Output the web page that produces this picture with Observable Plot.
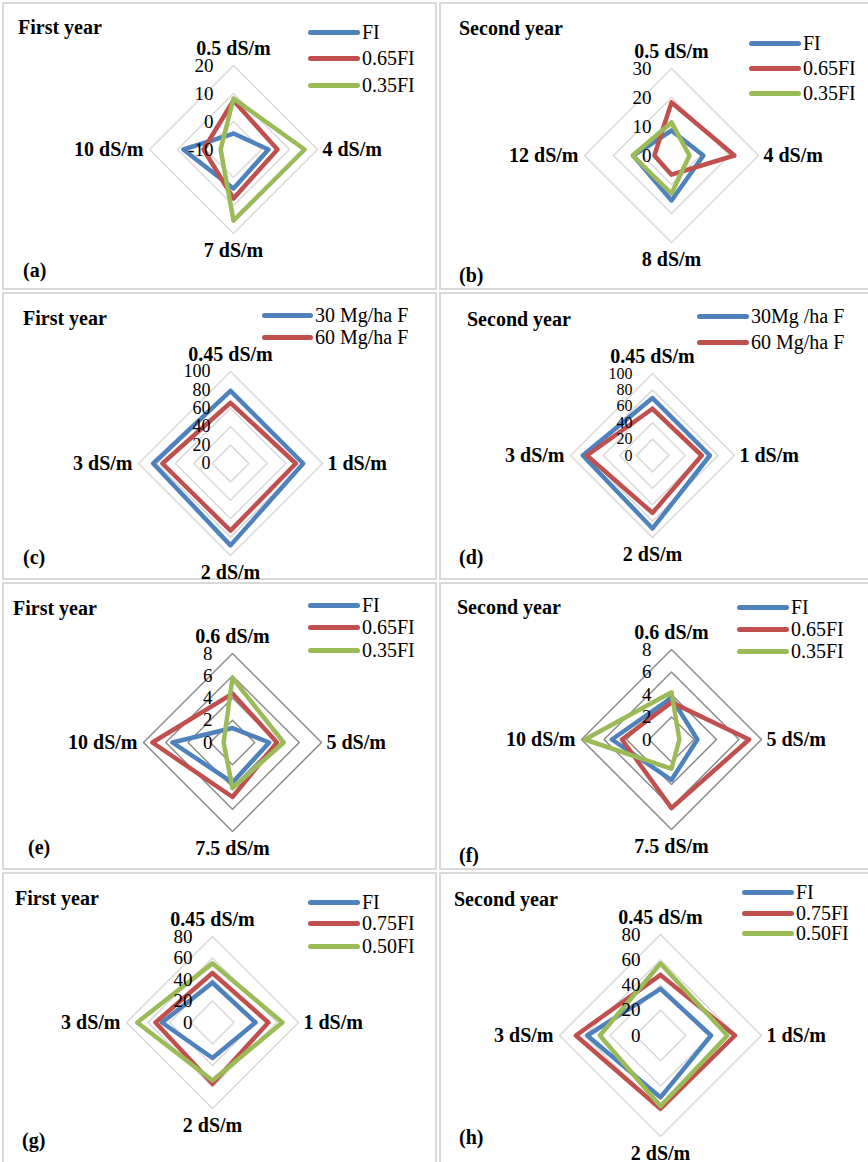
<!DOCTYPE html>
<html><head><meta charset="utf-8">
<script src="https://cdn.jsdelivr.net/npm/d3@7"></script>
<script src="https://cdn.jsdelivr.net/npm/@observablehq/plot@0.6"></script>
<style>
body{margin:0;background:#fff;width:868px;height:1162px;overflow:hidden;position:relative;font-family:"Liberation Serif","Times New Roman",serif;color:#000;}
.panel{position:absolute;overflow:visible;}
.panel svg{position:absolute;left:0;top:0;overflow:visible;}
.frame{position:absolute;box-sizing:border-box;border:2px solid #d9d9d9;pointer-events:none;}
.ttl{position:absolute;font-weight:bold;font-size:20px;line-height:24px;height:24px;white-space:nowrap;}
.tag{position:absolute;font-weight:bold;font-size:20px;line-height:24px;height:24px;white-space:nowrap;}
.lg{position:absolute;height:5px;border-radius:3px;}
.lt{position:absolute;font-size:20px;line-height:24px;height:24px;white-space:nowrap;}
</style>
</head><body>
<script>
// ---------- DATA ----------
const colorsSeries = ["#4f81bd", "#c0504d", "#9bbb59"];

const axesA = ["0.5 dS/m", "4 dS/m", "7 dS/m", "10 dS/m"];
const seriesA = ["FI", "0.65FI", "0.35FI"];
const ticksA = [-10, 0, 10, 20];
const aFI = [-4.3, 2.5, 3.9, 7.9];
const a065 = [7.5, 5.7, 7.5, 0.7];
const a035 = [8.2, 15.4, 15.4, -5.4];

const axesB = ["0.5 dS/m", "4 dS/m", "8 dS/m", "12 dS/m"];
const seriesB = ["FI", "0.65FI", "0.35FI"];
const ticksB = [0, 10, 20, 30];
const bFI = [8.6, 11, 15.5, 13.2];
const b065 = [18.3, 21.7, 6.6, 5.9];
const b035 = [11.4, 6.2, 13.1, 13.4];

const axesC = ["0.45 dS/m", "1 dS/m", "2 dS/m", "3 dS/m"];
const seriesC = ["30 Mg/ha F", "60 Mg/ha F"];
const ticksC = [0, 20, 40, 60, 80, 100];
const c30 = [79, 79, 89, 84];
const c60 = [66, 71, 73, 74];

const axesD = ["0.45 dS/m", "1 dS/m", "2 dS/m", "3 dS/m"];
const seriesD = ["30Mg /ha F", "60 Mg/ha F"];
const ticksD = [0, 20, 40, 60, 80, 100];
const d30 = [70, 70, 89, 85];
const d60 = [57, 60, 70, 80];

const axesE = ["0.6 dS/m", "5 dS/m", "7.5 dS/m", "10 dS/m"];
const seriesE = ["FI", "0.65FI", "0.35FI"];
const ticksE = [0, 2, 4, 6, 8];
const eFI = [1.3, 3.3, 3.6, 5.4];
const e065 = [4.4, 4.0, 4.9, 7.2];
const e035 = [5.8, 4.6, 4.1, 0.8];

const axesF = ["0.6 dS/m", "5 dS/m", "7.5 dS/m", "10 dS/m"];
const seriesF = ["FI", "0.65FI", "0.35FI"];
const ticksF = [0, 2, 4, 6, 8];
const fFI = [3.7, 2.3, 3.6, 5.3];
const f065 = [3.3, 6.9, 6.1, 4.4];
const f035 = [4.2, 0.7, 2.6, 7.7];

const axesG = ["0.45 dS/m", "1 dS/m", "2 dS/m", "3 dS/m"];
const seriesG = ["FI", "0.75FI", "0.50FI"];
const ticksG = [0, 20, 40, 60, 80];
const gFI = [37, 40, 33, 47];
const g075 = [46, 52, 57, 53];
const g050 = [55, 65, 54, 70];

const axesH = ["0.45 dS/m", "1 dS/m", "2 dS/m", "3 dS/m"];
const seriesH = ["FI", "0.75FI", "0.50FI"];
const ticksH = [0, 20, 40, 60, 80];
const hFI = [37, 40, 49, 58];
const h075 = [48, 59, 58, 67];
const h050 = [57, 53, 56, 48];

// ---------- LAYOUT ----------
const panels = [
  {ox:0, oy:0, w:434, h:290, title:"First year", tag:"(a)", axes:axesA, series:seriesA, ticks:ticksA, values:[aFI,a065,a035],
   cx:233, cy:149, R:84, grid:"#d9d9d9", tx:18, ty:27, gx:23, gy:270, lx1:308, lx2:360, ly:[32,58,85]},
  {ox:434, oy:0, w:434, h:290, title:"Second year", tag:"(b)", axes:axesB, series:seriesB, ticks:ticksB, values:[bFI,b065,b035],
   cx:237, cy:155, R:87, grid:"#d9d9d9", tx:25, ty:28, gx:25, gy:275, lx1:315, lx2:367, ly:[43,68,93]},
  {ox:0, oy:290, w:434, h:290, title:"First year", tag:"(c)", axes:axesC, series:seriesC, ticks:ticksC, values:[c30,c60],
   cx:230, cy:173, R:92, grid:"#d9d9d9", tx:23, ty:28, gx:23, gy:267, lx1:262, lx2:313, ly:[25,47]},
  {ox:434, oy:290, w:434, h:290, title:"Second year", tag:"(d)", axes:axesD, series:seriesD, ticks:ticksD, values:[d30,d60],
   cx:218, cy:165, R:82, grid:"#d9d9d9", tx:33, ty:29, gx:25, gy:267, lx1:263, lx2:315, ly:[26,52]},
  {ox:0, oy:580, w:434, h:290, title:"First year", tag:"(e)", axes:axesE, series:seriesE, ticks:ticksE, values:[eFI,e065,e035],
   cx:232, cy:162, R:89, grid:"#8c8c8c", tx:13, ty:28, gx:28, gy:267, lx1:308, lx2:360, ly:[25,47,70]},
  {ox:434, oy:580, w:434, h:290, title:"Second year", tag:"(f)", axes:axesF, series:seriesF, ticks:ticksF, values:[fFI,f065,f035],
   cx:237, cy:159, R:90, grid:"#8c8c8c", tx:23, ty:27, gx:25, gy:275, lx1:303, lx2:355, ly:[27,49,71]},
  {ox:0, oy:870, w:434, h:292, title:"First year", tag:"(g)", axes:axesG, series:seriesG, ticks:ticksG, values:[gFI,g075,g050],
   cx:212, cy:152, R:86, grid:"#d9d9d9", tx:15, ty:28, gx:22, gy:270, lx1:308, lx2:360, ly:[32,53,76]},
  {ox:434, oy:870, w:434, h:292, title:"Second year", tag:"(h)", axes:axesH, series:seriesH, ticks:ticksH, values:[hFI,h075,h050],
   cx:226, cy:165, R:101, grid:"#d9d9d9", tx:20, ty:29, gx:25, gy:267, lx1:308, lx2:360, ly:[22,43,63]}
];

const FONT = '"Liberation Serif", "Times New Roman", serif';

function radar(p) {
  const n = p.axes.length;
  const min = p.ticks[0], max = p.ticks[p.ticks.length - 1];
  const span = max - min;
  const pt = (i, v) => {
    const a = (i % n) * 2 * Math.PI / n;
    const r = v - min;
    return {x: r * Math.sin(a), y: r * Math.cos(a)};
  };
  const lines = [];
  p.series.forEach((s, k) => {
    for (let i = 0; i <= n; i++) lines.push({series: s, ...pt(i, p.values[k][i % n])});
  });
  const rings = [];
  p.ticks.forEach(t => {
    if (t <= min) return;
    for (let i = 0; i <= n; i++) rings.push({ring: t, ...pt(i, t)});
  });
  const tickData = p.ticks.map(t => ({x: 0, y: t - min, label: String(t)}));
  const ax = p.axes.map((a, i) => ({label: a, ...pt(i, max)}));
  const lbl = {x: "x", y: "y", text: "label", fontWeight: "bold", fontSize: 20, fill: "#000"};
  // tick label size limited by ring spacing so stacked labels do not collide
  const stepPx = p.R / (p.ticks.length - 1);
  const tickSize = Math.min(19, Math.floor(stepPx));
  return Plot.plot({
    width: p.w, height: p.h, margin: 0,
    style: {fontFamily: FONT, background: "none", overflow: "visible"},
    x: {domain: [-span, span], range: [p.cx - p.R, p.cx + p.R], axis: null},
    y: {domain: [-span, span], range: [p.cy + p.R, p.cy - p.R], axis: null},
    color: {domain: p.series, range: colorsSeries.slice(0, p.series.length)},
    marks: [
      Plot.line(rings, {x: "x", y: "y", z: "ring", stroke: p.grid, strokeWidth: 1.5}),
      Plot.line(lines, {x: "x", y: "y", z: "series", stroke: "series", strokeWidth: 4.5, strokeLinejoin: "round", strokeLinecap: "round"}),
      Plot.text(tickData, {x: "x", y: "y", text: "label", textAnchor: "end", dx: -20, fontSize: tickSize, fill: "#000"}),
      Plot.text([ax[0]], {...lbl, dy: -17}),
      Plot.text([ax[1]], {...lbl, textAnchor: "start", dx: 5}),
      Plot.text([ax[2]], {...lbl, dy: 17}),
      Plot.text([ax[3]], {...lbl, textAnchor: "end", dx: -6})
    ]
  });
}

panels.forEach(p => {
  const div = document.createElement("div");
  div.className = "panel";
  div.style.left = p.ox + "px"; div.style.top = p.oy + "px";
  div.style.width = p.w + "px"; div.style.height = p.h + "px";
  document.body.appendChild(div);

  const frame = document.createElement("div");
  frame.className = "frame";
  const fl = p.ox === 0 ? 2 : 5;
  frame.style.left = fl + "px"; frame.style.top = "2px";
  frame.style.width = (p.ox === 0 ? 435 : 440) + "px";
  frame.style.height = (p.oy === 870 ? 300 : 288) + "px";
  div.appendChild(frame);

  div.appendChild(radar(p));

  const t = document.createElement("div");
  t.className = "ttl"; t.textContent = p.title;
  t.style.left = p.tx + "px"; t.style.top = (p.ty - 12) + "px";
  div.appendChild(t);

  const g = document.createElement("div");
  g.className = "tag"; g.textContent = p.tag;
  g.style.left = p.gx + "px"; g.style.top = (p.gy - 12) + "px";
  div.appendChild(g);

  p.series.forEach((s, k) => {
    const l = document.createElement("div");
    l.className = "lg";
    l.style.background = colorsSeries[k];
    l.style.left = p.lx1 + "px"; l.style.width = (p.lx2 - p.lx1) + "px";
    l.style.top = (p.ly[k] - 2.5) + "px";
    div.appendChild(l);
    const lt = document.createElement("div");
    lt.className = "lt"; lt.textContent = s;
    lt.style.left = (p.lx2 + 2) + "px"; lt.style.top = (p.ly[k] - 12) + "px";
    div.appendChild(lt);
  });
});
</script>
</body></html>
